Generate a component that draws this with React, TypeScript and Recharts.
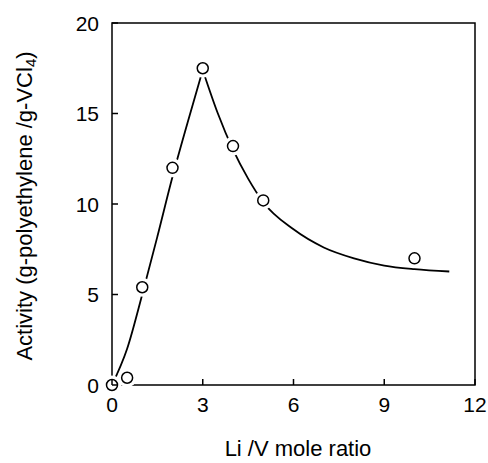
import React from "react";
import {
  ComposedChart,
  Line,
  Scatter,
  XAxis,
  YAxis,
  ReferenceArea,
} from "recharts";

// Li/V mole ratio vs. catalyst activity
const measured = [
  { x: 0, y: 0 },
  { x: 0.5, y: 0.4 },
  { x: 1, y: 5.4 },
  { x: 2, y: 12 },
  { x: 3, y: 17.5 },
  { x: 4, y: 13.2 },
  { x: 5, y: 10.2 },
  { x: 10, y: 7 },
];

// hand-drawn fit (rising and decaying branches)
const riseCurve = [
  { x: 0, y: 0 },
  { x: 0.5, y: 2.0 },
  { x: 1, y: 5.0 },
  { x: 1.5, y: 8.2 },
  { x: 2, y: 11.5 },
  { x: 2.5, y: 14.5 },
  { x: 3, y: 17.4 },
];

const decayCurve = [
  { x: 3, y: 17.4 },
  { x: 3.5, y: 15.0 },
  { x: 4, y: 13.0 },
  { x: 4.5, y: 11.4 },
  { x: 5, y: 10.1 },
  { x: 6, y: 8.6 },
  { x: 7, y: 7.6 },
  { x: 8, y: 7.0 },
  { x: 9, y: 6.6 },
  { x: 10, y: 6.4 },
  { x: 11.15, y: 6.27 },
];

const xTicks = [0, 3, 6, 9, 12];
const yTicks = [0, 5, 10, 15, 20];

const FONT = '"Liberation Sans", Arial, Helvetica, sans-serif';

const XTick = (props: any) => {
  const { x, y, payload } = props;
  return (
    <g>
      <line x1={x} y1={y} x2={x} y2={y - 6} stroke="#000" strokeWidth={1.5} />
      <text x={x} y={y + 27} textAnchor="middle" fontSize={21} fontFamily={FONT} fill="#000">
        {payload.value}
      </text>
    </g>
  );
};

const YTick = (props: any) => {
  const { x, y, payload } = props;
  return (
    <g>
      <line x1={x} y1={y} x2={x + 6} y2={y} stroke="#000" strokeWidth={1.5} />
      <text x={x - 13} y={y + 7.5} textAnchor="end" fontSize={21} fontFamily={FONT} fill="#000">
        {payload.value}
      </text>
    </g>
  );
};

// white ring so the fitted curve breaks off before each marker
const Halo = (props: any) => <circle cx={props.cx} cy={props.cy} r={9.5} fill="#fff" />;

const OpenCircle = (props: any) => (
  <circle cx={props.cx} cy={props.cy} r={5.5} fill="#fff" stroke="#000" strokeWidth={1.5} />
);

const YLabel = () => {
  const cy = 206;
  const bx = 32;
  return (
    <text
      x={bx}
      y={cy}
      transform={`rotate(-90, ${bx}, ${cy})`}
      textAnchor="middle"
      fontSize={22}
      fontFamily={FONT}
      fill="#000"
    >
      Activity (g-polyethylene /g-VCl
      <tspan dy={4} fontSize={15}>4</tspan>
      <tspan dy={-4}>)</tspan>
    </text>
  );
};

const XLabel = () => (
  <text x={298} y={456} textAnchor="middle" fontSize={22} fontFamily={FONT} fill="#000">
    Li /V mole ratio
  </text>
);

export default function App() {
  return (
    <div style={{ position: "absolute", left: 0, top: 0, background: "#fff" }}>
      <ComposedChart
        width={488}
        height={463}
        margin={{ top: 23, right: 13, bottom: 0, left: 52 }}
      >
        <XAxis
          type="number"
          dataKey="x"
          domain={[0, 12]}
          ticks={xTicks}
          height={78}
          axisLine={false}
          tickLine={false}
          tickSize={0}
          tickMargin={0}
          tick={<XTick />}
          interval={0}
          label={<XLabel />}
        />
        <YAxis
          type="number"
          dataKey="y"
          domain={[0, 20]}
          ticks={yTicks}
          width={60}
          axisLine={false}
          tickLine={false}
          tickSize={0}
          tickMargin={0}
          tick={<YTick />}
          interval={0}
          label={<YLabel />}
        />
        <Line
          data={riseCurve}
          dataKey="y"
          type="monotone"
          stroke="#000"
          strokeWidth={1.8}
          dot={false}
          isAnimationActive={false}
        />
        <Line
          data={decayCurve}
          dataKey="y"
          type="monotone"
          stroke="#000"
          strokeWidth={1.8}
          dot={false}
          isAnimationActive={false}
        />
        <Scatter
          data={measured}
          dataKey="y"
          shape={<Halo />}
          isAnimationActive={false}
        />
        <ReferenceArea
          x1={0}
          x2={12}
          y1={0}
          y2={20}
          fill="none"
          fillOpacity={0}
          stroke="#000"
          strokeWidth={1.5}
        />
        <Scatter
          data={measured}
          dataKey="y"
          shape={<OpenCircle />}
          isAnimationActive={false}
        />
      </ComposedChart>
    </div>
  );
}
